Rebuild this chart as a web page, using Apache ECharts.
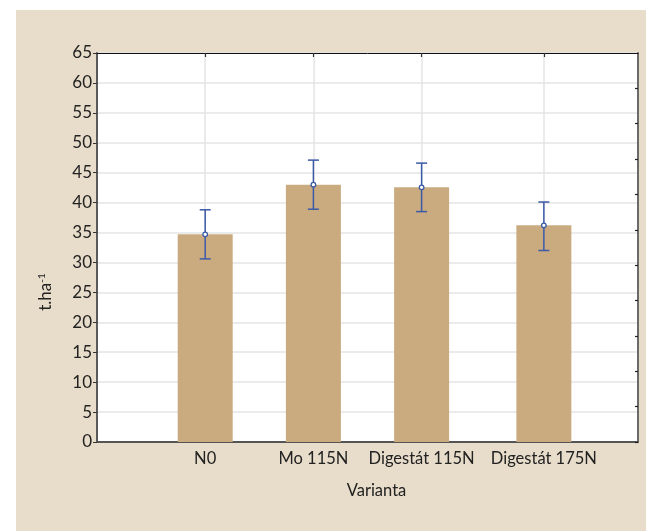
<!DOCTYPE html>
<html>
<head>
<meta charset="utf-8">
<script src="https://cdn.jsdelivr.net/npm/echarts@6/dist/echarts.min.js"></script>
<style>
html,body{margin:0;padding:0;background:#fff;}
#c{width:646px;height:531px;}
</style>
</head>
<body>
<div id="c"></div>
<script>
// Data
const categories = ['N0', 'Mo 115N', 'Digestát 115N', 'Digestát 175N'];
const xPos = [1, 2, 3, 4.13];          // axis value of each category
const means = [34.7, 43.0, 42.55, 36.2];
const lower = [30.6, 38.9, 38.5, 32.0];
const upper = [38.8, 47.1, 46.6, 40.1];
const yTicks = [0, 5, 10, 15, 20, 25, 30, 35, 40, 45, 50, 55, 60, 65];
const rightTicks = [0, 1, 2, 3, 4, 5, 6, 7, 8, 9, 10];

const FONT = 'Lato';
const chart = echarts.init(document.getElementById('c'), null, {renderer: 'canvas'});

const barData = xPos.map((x, i) => [x, means[i]]);
const errData = xPos.map((x, i) => [x, lower[i], upper[i], means[i]]);

const option = {
  backgroundColor: '#ffffff',
  animation: false,
  textStyle: {fontFamily: FONT},
  graphic: [
    {type: 'rect', z: -10, silent: true, shape: {x: 16, y: 10, width: 640, height: 530}, style: {fill: '#e8dcca'}},
    {type: 'text', x: 46, y: 292, rotation: Math.PI / 2, z: 10,
      style: {
        text: '{a|t.ha}{s|-1}',
        align: 'center', verticalAlign: 'middle',
        rich: {
          a: {fontFamily: FONT, fontSize: 17, fill: '#222'},
          s: {fontFamily: FONT, fontSize: 10, fill: '#222', verticalAlign: 'top', padding: [0, 0, 8, 0]}
        }
      }
    }
  ],
  grid: {left: 97, top: 53, right: 8, bottom: 89, show: true, backgroundColor: '#ffffff', borderWidth: 0},
  xAxis: [
    {
      type: 'value', min: 0, max: 5, position: 'bottom',
      axisLine: {show: true, onZero: false, lineStyle: {color: '#555', width: 2}},
      axisTick: {show: true, inside: true, length: 4, customValues: xPos, lineStyle: {color: '#333'}},
      axisLabel: {show: true, customValues: xPos, margin: 8, fontFamily: FONT, fontSize: 16.5, color: '#222',
        formatter: function (v) { const i = xPos.indexOf(v); return i >= 0 ? categories[i] : ''; }},
      splitLine: {show: true, lineStyle: {color: '#e4e4e4', width: 1.5}},
      name: 'Varianta', nameLocation: 'middle', nameGap: 40,
      nameTextStyle: {fontFamily: FONT, fontSize: 16.5, color: '#222', padding: [0, 0, 0, 18]}
    },
    {
      type: 'value', min: 0, max: 5, position: 'top',
      axisLine: {show: true, onZero: false, lineStyle: {color: '#111', width: 1}},
      axisTick: {show: true, inside: true, length: 4, customValues: xPos, lineStyle: {color: '#333', width: 1.2}},
      axisLabel: {show: false},
      splitLine: {show: false}
    }
  ],
  yAxis: [
    {
      type: 'value', min: 0, max: 65, interval: 5, position: 'left',
      axisLine: {show: true, onZero: false, lineStyle: {color: '#5a5a5a', width: 2}},
      axisTick: {show: true, inside: false, length: 4, lineStyle: {color: '#333'}},
      axisLabel: {show: true, margin: 5, fontFamily: FONT, fontSize: 17, color: '#222',
        formatter: function (v) { return yTicks.indexOf(v) >= 0 ? String(v) : ''; }},
      splitLine: {show: true, lineStyle: {color: '#e4e4e4', width: 1.5}}
    },
    {
      type: 'value', min: 0, max: 11, interval: 1, position: 'right',
      axisLine: {show: true, onZero: false, lineStyle: {color: '#6a6a6a', width: 2}},
      axisTick: {show: true, inside: true, length: 3, customValues: rightTicks, lineStyle: {color: '#222', width: 1.2}},
      axisLabel: {show: false},
      splitLine: {show: false}
    }
  ],
  series: [
    {
      type: 'bar', xAxisIndex: 0, yAxisIndex: 0,
      data: barData, barWidth: 55,
      itemStyle: {color: '#caab80'}
    },
    {
      type: 'line', xAxisIndex: 1, yAxisIndex: 1, data: [], silent: true
    },
    {
      type: 'custom', xAxisIndex: 0, yAxisIndex: 0, z: 5,
      data: errData,
      renderItem: function (params, api) {
        const x = api.value(0);
        const lo = api.coord([x, api.value(1)]);
        const hi = api.coord([x, api.value(2)]);
        const m = api.coord([x, api.value(3)]);
        const hw = 5.5;
        const st = {stroke: '#3b5aa6', lineWidth: 1.5, fill: null};
        return {
          type: 'group',
          children: [
            {type: 'line', shape: {x1: lo[0], y1: lo[1], x2: hi[0], y2: hi[1]}, style: st},
            {type: 'line', shape: {x1: lo[0] - hw, y1: lo[1], x2: lo[0] + hw, y2: lo[1]}, style: st},
            {type: 'line', shape: {x1: hi[0] - hw, y1: hi[1], x2: hi[0] + hw, y2: hi[1]}, style: st},
            {type: 'circle', shape: {cx: m[0], cy: m[1], r: 2.3}, style: {stroke: '#3b5aa6', lineWidth: 1.3, fill: '#ffffff'}}
          ]
        };
      }
    }
  ]
};
chart.setOption(option);
</script>
</body>
</html>
